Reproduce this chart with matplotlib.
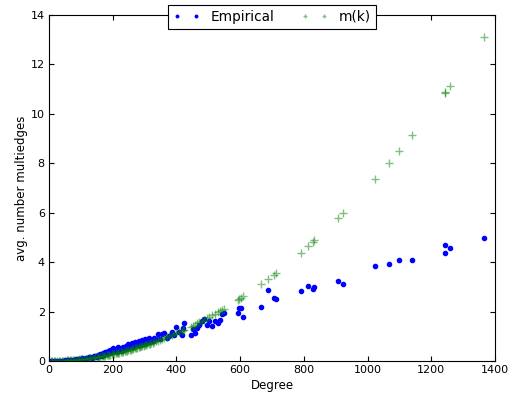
import numpy as np
import matplotlib
matplotlib.use('Agg')
import matplotlib.pyplot as plt

# degree of node
degree = [5, 10, 15, 20, 25, 30, 35, 40, 45, 50, 55, 60, 65, 70, 75, 80, 85, 90, 95, 100,
          105, 110, 115, 120, 125, 130, 135, 140, 145, 150,
          153, 157, 161, 165, 169, 173, 177, 181, 185, 189, 193, 197, 201, 205, 209, 213,
          217, 221, 225, 229, 233, 237, 241, 245, 249, 253, 257, 261, 265, 269, 273, 277,
          281, 285, 289, 293, 297, 301, 305, 309, 313, 317, 321, 326, 331, 336, 342, 348,
          355, 362, 370, 378, 385, 392, 400, 408, 416, 420, 424, 445, 452, 458, 465, 472,
          480, 488, 495, 503, 512, 520, 530, 537, 542, 548,
          594, 597, 603, 610, 665, 686, 706, 714, 790, 813, 828, 833, 907, 923,
          1024, 1067, 1099, 1141, 1243, 1244, 1259, 1366]

# model prediction m(k)
model_mk = [0.000, 0.001, 0.002, 0.003, 0.004, 0.006, 0.009, 0.011, 0.014, 0.018,
            0.021, 0.025, 0.030, 0.034, 0.040, 0.045, 0.051, 0.057, 0.063, 0.070,
            0.078, 0.085, 0.093, 0.101, 0.110, 0.119, 0.128, 0.138, 0.148, 0.158,
            0.165, 0.173, 0.182, 0.191, 0.201, 0.210, 0.220, 0.230, 0.241, 0.251, 0.262,
            0.273, 0.284, 0.295, 0.307, 0.319, 0.331, 0.343, 0.356, 0.369, 0.382, 0.395,
            0.408, 0.422, 0.436, 0.450, 0.464, 0.479, 0.494, 0.509, 0.524, 0.539, 0.555,
            0.571, 0.587, 0.604, 0.620, 0.637, 0.654, 0.671, 0.689, 0.706, 0.724, 0.747,
            0.770, 0.794, 0.822, 0.851,
            0.886, 0.921, 0.962, 1.005, 1.042, 1.080, 1.125, 1.170, 1.217, 1.240, 1.264,
            1.392, 1.436, 1.475, 1.520, 1.566, 1.620, 1.674, 1.722, 1.779, 1.843, 1.901,
            1.975, 2.027, 2.065, 2.111,
            2.48, 2.51, 2.56, 2.62, 3.11, 3.31, 3.50, 3.58, 4.39, 4.65, 4.82, 4.88,
            5.78, 5.99, 7.37, 8.00, 8.49, 9.15, 10.86, 10.88, 11.14, 13.12]

# empirical average number of multiedges
empirical = [0.00, 0.00, 0.00, 0.01, 0.01, 0.01, 0.01, 0.02, 0.02, 0.03, 0.03, 0.04,
             0.04, 0.05, 0.05, 0.06, 0.07, 0.07, 0.08, 0.09, 0.11, 0.10, 0.13, 0.12,
             0.15, 0.17, 0.14, 0.19, 0.21, 0.18,
             0.24, 0.20, 0.27, 0.22, 0.31, 0.26, 0.35, 0.29, 0.40, 0.33, 0.45, 0.36,
             0.52, 0.41, 0.47, 0.38, 0.55, 0.44, 0.50, 0.42, 0.58, 0.47, 0.62, 0.52,
             0.68, 0.55, 0.64, 0.72, 0.57, 0.76, 0.63, 0.70, 0.80, 0.66, 0.78, 0.85,
             0.70, 0.89, 0.74, 0.82, 0.92, 0.77, 0.86, 0.80, 0.93, 0.88, 1.08, 0.90,
             1.09, 1.12, 0.95, 1.00, 1.19, 1.06, 1.36, 1.19, 1.05, 1.32, 1.55,
             1.05, 1.28, 1.12, 1.32, 1.46, 1.61, 1.69, 1.45, 1.62, 1.42, 1.62,
             1.55, 1.66, 1.89, 1.95,
             1.96, 2.13, 2.16, 1.77, 2.17, 2.87, 2.56, 2.50, 2.85, 3.05, 2.90, 2.99,
             3.22, 3.13, 3.83, 3.93, 4.07, 4.07, 4.71, 4.38, 4.56, 4.98]

plt.rcParams['font.family'] = 'DejaVu Sans'

fig = plt.figure(figsize=(5.13, 3.94), dpi=100)
ax = fig.add_axes([49 / 513, 33 / 394, 446 / 513, 346 / 394])

ax.plot(degree, empirical, '.', color='#0000ff', markersize=6, label='Empirical')
ax.plot(degree, model_mk, '+', color='#008000', markersize=6, alpha=0.5,
        label='m(k)')

ax.set_xlim(0, 1400)
ax.set_ylim(0, 14)
ax.set_xticks(np.arange(0, 1401, 200))
ax.set_yticks(np.arange(0, 15, 2))
ax.tick_params(direction='in', top=True, right=True, length=3.5, labelsize=8,
               pad=3)
ax.set_xlabel('Degree', fontsize=8.5, labelpad=3)
ax.set_ylabel('avg. number multiedges', fontsize=8.5, labelpad=2)
for s in ax.spines.values():
    s.set_color('black')

leg = ax.legend(loc='upper center', bbox_to_anchor=(0.5, 1.05), ncol=2,
                numpoints=2, fontsize=9.8, fancybox=False, handlelength=2.0,
                handletextpad=0.8, columnspacing=1.9, borderpad=0.4,
                markerscale=0.6, framealpha=1)
leg.get_frame().set_edgecolor('black')
leg.get_frame().set_linewidth(0.8)

fig.savefig('out.png', dpi=100)
